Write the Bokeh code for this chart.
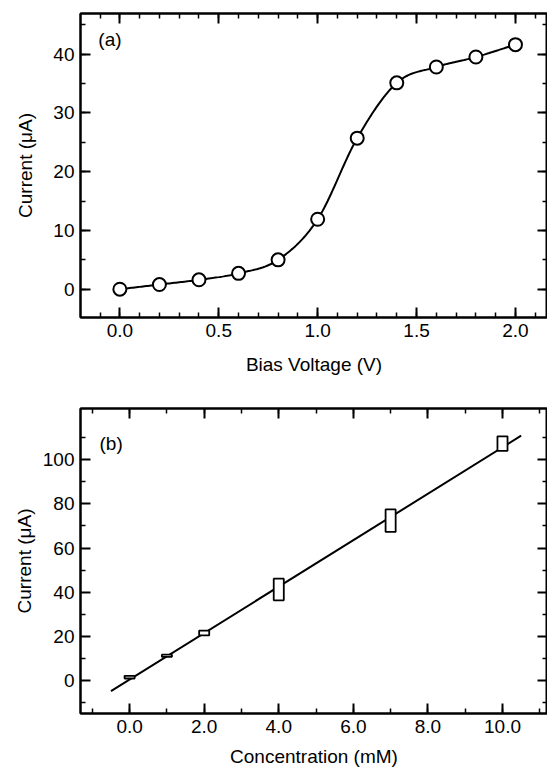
import numpy as np
from bokeh.plotting import figure
from bokeh.layouts import column
from bokeh.models import (LinearAxis, SingleIntervalTicker, FixedTicker, PrintfTickFormatter,
                          Label, Range1d)
from bokeh.embed import file_html
from bokeh.resources import INLINE

# ---------------- data ----------------
# Panel (a): current vs bias voltage
bias_v = [0.0, 0.2, 0.4, 0.6, 0.8, 1.0, 1.2, 1.4, 1.6, 1.8, 2.0]
current_a = [0.0, 0.8, 1.6, 2.7, 5.0, 11.9, 25.7, 35.1, 37.8, 39.5, 41.6]

# Panel (b): current vs concentration (box = mean +/- error)
conc_mm = [0.0, 1.0, 2.0, 4.0, 7.0, 10.0]
current_b = [1.5, 11.2, 21.5, 41.2, 72.4, 107.3]
current_b_err = [0.6, 0.5, 1.1, 4.9, 5.1, 3.3]
fit_range = [-0.5, 10.5]

# Panel (b) y ticks
b_yticks = [0, 20, 40, 60, 80, 100]
b_yminor = [-10, 10, 30, 50, 70, 90, 110]

FONT = "Liberation Sans"


def catmull_rom(x, y, n=24):
    x = np.asarray(x, float)
    y = np.asarray(y, float)
    px = np.concatenate([[2 * x[0] - x[1]], x, [2 * x[-1] - x[-2]]])
    py = np.concatenate([[2 * y[0] - y[1]], y, [2 * y[-1] - y[-2]]])
    xs, ys = [], []
    t = np.linspace(0, 1, n, endpoint=False)
    for i in range(1, len(px) - 2):
        for P, out in ((px, xs), (py, ys)):
            p0, p1, p2, p3 = P[i - 1], P[i], P[i + 1], P[i + 2]
            v = 0.5 * (2 * p1 + (-p0 + p2) * t + (2 * p0 - 5 * p1 + 4 * p2 - p3) * t ** 2
                       + (-p0 + 3 * p1 - 3 * p2 + p3) * t ** 3)
            out.extend(v.tolist())
    xs.append(x[-1])
    ys.append(y[-1])
    return xs, ys


def style_axis(ax, show_labels=True):
    ax.axis_line_width = 2
    ax.axis_line_color = "black"
    ax.major_tick_in = 10
    ax.major_tick_out = 0
    ax.minor_tick_in = 5
    ax.minor_tick_out = 0
    ax.major_tick_line_width = 2
    ax.minor_tick_line_width = 1.5
    ax.major_tick_line_color = "black"
    ax.minor_tick_line_color = "black"
    ax.major_label_text_font = FONT
    ax.major_label_text_font_size = "19px"
    ax.major_label_text_color = "black"
    ax.axis_label_text_font = FONT
    ax.axis_label_text_font_size = "19px"
    ax.axis_label_text_font_style = "normal"
    ax.axis_label_text_color = "black"
    if not show_labels:
        ax.major_label_text_font_size = "1px"
        ax.major_label_text_color = None
        ax.major_label_standoff = 0


def make_fig(height, xr, yr, top, bottom, xticker, yticker, xfmt, yfmt,
             xlabel, ylabel, xstand, ystand):
    p = figure(width=547, height=height, x_range=Range1d(*xr), y_range=Range1d(*yr),
               output_backend="svg", toolbar_location=None,
               min_border_left=80, min_border_right=0, min_border_top=top,
               min_border_bottom=bottom)
    p.xgrid.grid_line_color = None
    p.ygrid.grid_line_color = None
    p.outline_line_color = "black"
    p.outline_line_width = 2
    p.background_fill_color = "white"
    p.border_fill_color = "white"

    xa = p.xaxis[0]
    ya = p.yaxis[0]
    xa.ticker = xticker()
    ya.ticker = yticker()
    xa.formatter = PrintfTickFormatter(format=xfmt)
    ya.formatter = PrintfTickFormatter(format=yfmt)
    style_axis(xa)
    style_axis(ya)
    xa.axis_label = xlabel
    ya.axis_label = ylabel
    xa.major_label_standoff = 6
    xa.axis_label_standoff = xstand
    ya.major_label_standoff = 6
    ya.axis_label_standoff = ystand

    top_ax = LinearAxis(ticker=xticker())
    right_ax = LinearAxis(ticker=yticker())
    style_axis(top_ax, False)
    style_axis(right_ax, False)
    p.add_layout(top_ax, "above")
    p.add_layout(right_ax, "right")
    return p


# ---------------- panel (a) ----------------
p1 = make_fig(395, (-0.199, 2.162), (-4.81, 46.9), 13, 78,
              lambda: SingleIntervalTicker(interval=0.5, num_minor_ticks=5),
              lambda: SingleIntervalTicker(interval=10, num_minor_ticks=2),
              "%.1f", "%d", "Bias Voltage (V)", "Current (\u03bcA)", 14, 14)
sx, sy = catmull_rom(bias_v, current_a)
p1.line(sx, sy, line_color="black", line_width=2)
p1.scatter(bias_v, current_a, marker="circle", size=13, fill_color="white",
           line_color="black", line_width=2)
p1.add_layout(Label(x=-0.109, y=42.5, text="(a)", text_font=FONT, text_font_size="19px",
                    text_baseline="middle", text_align="left", text_color="black"))

# ---------------- panel (b) ----------------
p2 = make_fig(376, (-1.317, 11.207), (-14.95, 123.2), 13, 58,
              lambda: SingleIntervalTicker(interval=2, num_minor_ticks=2),
              lambda: FixedTicker(ticks=b_yticks, minor_ticks=b_yminor),
              "%.1f", "%d", "Concentration (mM)", "Current (\u03bcA)", 10, 5)
coef = np.polyfit(conc_mm, current_b, 1)
fx = np.array(fit_range)
p2.line(fx, np.polyval(coef, fx), line_color="black", line_width=2)
p2.rect(x=conc_mm, y=current_b, width=0.27, height=[2 * e for e in current_b_err],
        fill_color="white", line_color="black", line_width=1.8)
p2.add_layout(Label(x=-0.807, y=107.4, text="(b)", text_font=FONT, text_font_size="19px",
                    text_baseline="middle", text_align="left", text_color="black"))

layout = column(p1, p2, spacing=0)
open("out.html", "w").write(file_html(layout, INLINE))
